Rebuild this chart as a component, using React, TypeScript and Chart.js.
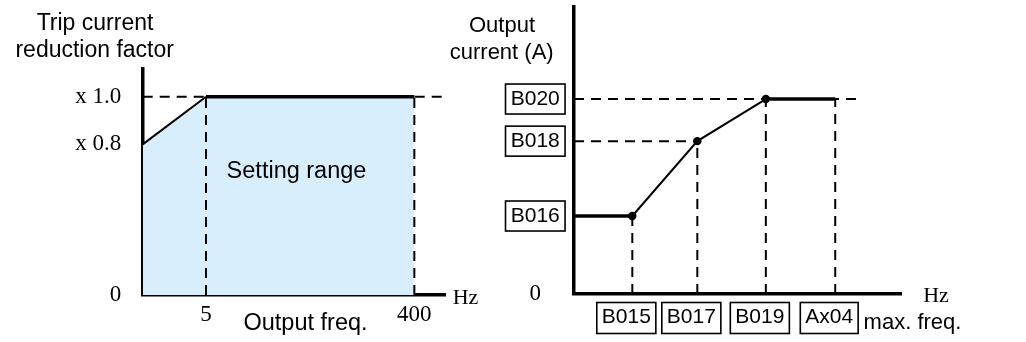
import React, { useEffect, useRef } from "react";
import { Chart, registerables } from "chart.js";

Chart.register(...registerables);

const SANS = "'Liberation Sans', Arial, sans-serif";
const SERIF = "'Liberation Serif', 'Times New Roman', serif";

// ---------- Left panel: trip current reduction factor (schematic axis units) ----------
const leftFreqPos = [0, 1, 4.29]; // start, 5 Hz, 400 Hz
const leftFactor = [0.76, 1.0, 1.0];
const leftXTickValues = [1, 4.29];
const leftXTickLabels = ["5", "400"];
const leftYTickValues = [0, 0.76, 1.0];
const leftYTickLabels = ["0", "x 0.8", "x 1.0"];
const leftXMax = 4.79;
const leftYMax = 1.14;

// ---------- Right panel: output current vs frequency (schematic axis units) ----------
const rightFreqPos = [0, 1, 2.115, 3.29, 4.48];
const rightCurrent = [1.0, 1.0, 1.96, 2.5, 2.5];
const rightXTickValues = [1, 2.115, 3.29, 4.48];
const rightXTickLabels = ["B015", "B017", "B019", "Ax04"];
const rightYTickValues = [0, 1.0, 1.96, 2.5];
const rightYTickLabels = ["0", "B016", "B018", "B020"];
const rightXMax = 5.62;
const rightYMax = 3.68;
const rightDashEnd = 4.85;

const W = 1026;
const H = 342;

type Txt = { text: string; x: number; y: number; font: string };

const textPlugin = (id: string, items: Txt[]) => ({
  id,
  afterDraw(chart: any) {
    const ctx = chart.ctx;
    ctx.save();
    ctx.fillStyle = "#000";
    ctx.textAlign = "center";
    ctx.textBaseline = "alphabetic";
    items.forEach((t) => {
      ctx.font = t.font;
      ctx.fillText(t.text, t.x, t.y);
    });
    ctx.restore();
  },
});

const boxPlugin = {
  id: "tickBoxes",
  afterDraw(chart: any) {
    const ctx = chart.ctx;
    const xs = chart.scales.x;
    const ys = chart.scales.y;
    ctx.save();
    ctx.strokeStyle = "#000";
    ctx.lineWidth = 1.6;
    ctx.font = `21px ${SANS}`;
    // y tick boxes
    const widest = Math.max(...rightYTickLabels.map((l) => ctx.measureText(l).width));
    const cxY = ys.right - ys.options.ticks.padding - widest / 2;
    rightYTickValues.forEach((v, i) => {
      if (rightYTickLabels[i] === "0") return;
      const cy = ys.getPixelForValue(v);
      const w = widest + 10.5;
      ctx.strokeRect(cxY - w / 2, cy - 15, w, 30);
    });
    // x tick boxes
    const off = xs.options.ticks.labelOffset;
    rightXTickValues.forEach((v, i) => {
      const cx = xs.getPixelForValue(v) + off;
      const w = ctx.measureText(rightXTickLabels[i]).width + 10;
      ctx.strokeRect(cx - w / 2, 302.5, w, 31);
    });
    ctx.restore();
  },
};

const axisBase = (min: number, max: number) => ({
  type: "linear" as const,
  min,
  max,
  grid: { display: false, drawTicks: false },
  border: { display: true, color: "#000", width: 3.5 },
});

const dashed = (pts: { x: number; y: number }[]) => ({
  data: pts,
  borderColor: "#000",
  borderWidth: 2,
  borderDash: [10, 7],
  pointRadius: 0,
  fill: false,
  order: 2,
});

export default function App() {
  const leftRef = useRef<HTMLCanvasElement>(null);
  const rightRef = useRef<HTMLCanvasElement>(null);

  useEffect(() => {
    const leftChart = new Chart(leftRef.current!, {
      type: "line",
      data: {
        datasets: [
          {
            data: leftFreqPos.map((x, i) => ({ x, y: leftFactor[i] })),
            borderColor: "#000",
            backgroundColor: "#d9eefc",
            fill: "origin",
            pointRadius: 0,
            tension: 0,
            order: 0,
            segment: {
              borderWidth: (c: any) => (c.p0DataIndex === 0 ? 2 : 3.5),
            },
          } as any,
          dashed([
            { x: 0, y: leftFactor[1] },
            { x: leftXMax, y: leftFactor[1] },
          ]),
          ...leftXTickValues.map((v) =>
            dashed([
              { x: v, y: 0 },
              { x: v, y: leftFactor[leftFreqPos.indexOf(v)] },
            ])
          ),
        ],
      },
      options: {
        animation: false,
        responsive: false,
        devicePixelRatio: 1,
        events: [],
        layout: { padding: { left: 0, top: 69, right: W - 446, bottom: 0 } },
        plugins: {
          legend: { display: false },
          tooltip: { enabled: false },
          filler: { drawTime: "beforeDatasetsDraw" },
        } as any,
        scales: {
          x: {
            ...axisBase(0, leftXMax),
            afterBuildTicks: (s: any) => {
              s.ticks = leftXTickValues.map((value) => ({ value }));
            },
            afterFit: (s: any) => {
              s.height = H - 295;
              s.paddingLeft = 0;
              s.paddingRight = 0;
            },
            ticks: {
              autoSkip: false,
              maxRotation: 0,
              padding: 6,
              color: "#000",
              font: { family: SERIF, size: 23 },
              callback: (v: any) => leftXTickLabels[leftXTickValues.indexOf(v)],
            },
          },
          y: {
            ...axisBase(0, leftYMax),
            afterBuildTicks: (s: any) => {
              s.ticks = leftYTickValues.map((value) => ({ value }));
            },
            afterFit: (s: any) => {
              s.width = 142.7;
              s.paddingTop = 0;
              s.paddingBottom = 0;
            },
            ticks: {
              autoSkip: false,
              padding: 21.5,
              color: "#000",
              font: { family: SERIF, size: 23 },
              callback: (v: any) => leftYTickLabels[leftYTickValues.indexOf(v)],
            },
          },
        } as any,
      },
      plugins: [
        textPlugin("leftText", [
          { text: "Trip current", x: 95, y: 29.5, font: `23px ${SANS}` },
          { text: "reduction factor", x: 94.7, y: 57, font: `23px ${SANS}` },
          { text: "Setting range", x: 296.5, y: 177.5, font: `23.5px ${SANS}` },
          { text: "Output freq.", x: 305.5, y: 330, font: `23.5px ${SANS}` },
          { text: "Hz", x: 465.5, y: 304, font: `22px ${SERIF}` },
        ]),
      ],
    });

    const rightChart = new Chart(rightRef.current!, {
      type: "line",
      data: {
        datasets: [
          {
            data: rightFreqPos.map((x, i) => ({ x, y: rightCurrent[i] })),
            borderColor: "#000",
            fill: false,
            tension: 0,
            order: 0,
            pointRadius: rightFreqPos.map((x) => (rightXTickValues.includes(x) && x !== rightXTickValues[rightXTickValues.length - 1] ? 4.2 : 0)),
            pointBackgroundColor: "#000",
            pointBorderWidth: 0,
            segment: {
              borderWidth: (c: any) => (c.p0DataIndex === 0 || c.p0DataIndex === 3 ? 3.5 : 2),
            },
          } as any,
          dashed([
            { x: 0, y: rightCurrent[3] },
            { x: rightDashEnd, y: rightCurrent[3] },
          ]),
          dashed([
            { x: 0, y: rightCurrent[2] },
            { x: rightFreqPos[2], y: rightCurrent[2] },
          ]),
          ...rightXTickValues.map((v) =>
            dashed([
              { x: v, y: 0 },
              { x: v, y: rightCurrent[rightFreqPos.indexOf(v)] },
            ])
          ),
        ],
      },
      options: {
        animation: false,
        responsive: false,
        devicePixelRatio: 1,
        events: [],
        layout: { padding: { left: 0, top: 7, right: W - 901.7, bottom: 0 } },
        plugins: {
          legend: { display: false },
          tooltip: { enabled: false },
        },
        scales: {
          x: {
            ...axisBase(0, rightXMax),
            afterBuildTicks: (s: any) => {
              s.ticks = rightXTickValues.map((value) => ({ value }));
            },
            afterFit: (s: any) => {
              s.height = H - 294;
              s.paddingLeft = 0;
              s.paddingRight = 0;
            },
            ticks: {
              autoSkip: false,
              maxRotation: 0,
              padding: 10.5,
              labelOffset: -6,
              color: "#000",
              font: { family: SANS, size: 21 },
              callback: (v: any) => rightXTickLabels[rightXTickValues.indexOf(v)],
            },
          },
          y: {
            ...axisBase(0, rightYMax),
            afterBuildTicks: (s: any) => {
              s.ticks = rightYTickValues.map((value) => ({ value }));
            },
            afterFit: (s: any) => {
              s.width = 574;
              s.paddingTop = 0;
              s.paddingBottom = 0;
            },
            ticks: {
              autoSkip: false,
              padding: 14.2,
              crossAlign: "center",
              color: "#000",
              font: (c: any) =>
                c.tick && c.tick.value === 0
                  ? { family: SERIF, size: 23 }
                  : { family: SANS, size: 21 },
              callback: (v: any) => rightYTickLabels[rightYTickValues.indexOf(v)],
            },
          },
        } as any,
      },
      plugins: [
        boxPlugin,
        textPlugin("rightText", [
          { text: "Output", x: 502, y: 31.7, font: `22px ${SANS}` },
          { text: "current (A)", x: 501.7, y: 59, font: `22px ${SANS}` },
          { text: "Hz", x: 936, y: 302, font: `22px ${SERIF}` },
          { text: "max. freq.", x: 912.5, y: 328.5, font: `22px ${SANS}` },
        ]),
      ],
    });

    return () => {
      leftChart.destroy();
      rightChart.destroy();
    };
  }, []);

  const cs: React.CSSProperties = { position: "absolute", left: 0, top: 0, display: "block" };
  return (
    <div style={{ position: "fixed", left: 0, top: 0, width: W, height: H, background: "#fff" }}>
      <canvas ref={leftRef} width={W} height={H} style={cs} />
      <canvas ref={rightRef} width={W} height={H} style={cs} />
    </div>
  );
}
